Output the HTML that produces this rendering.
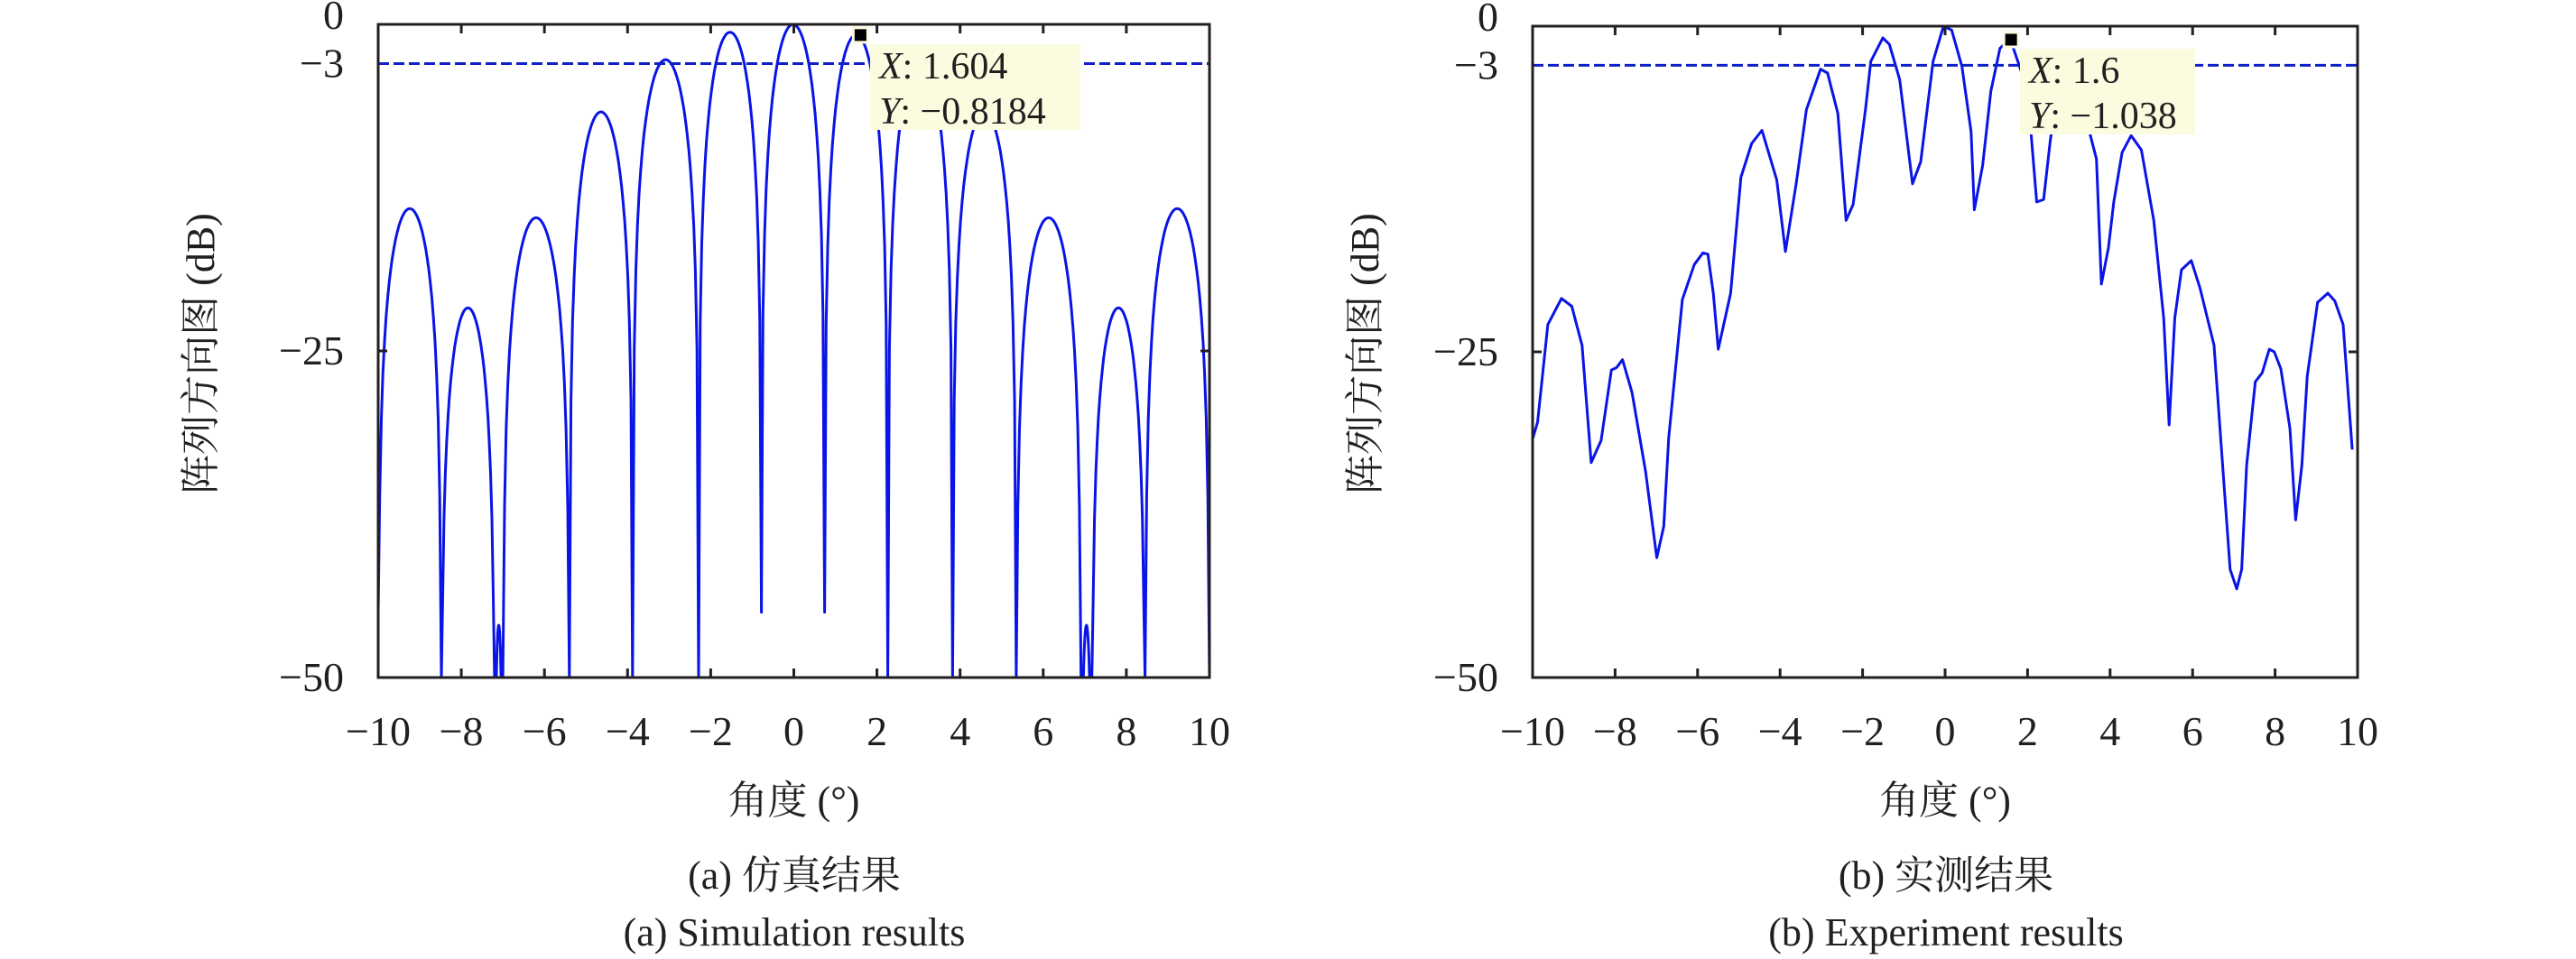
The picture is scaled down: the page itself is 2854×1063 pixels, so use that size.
<!DOCTYPE html>
<html><head><meta charset="utf-8"><style>
html,body{margin:0;padding:0;background:#fff;}
svg{display:block;}
text{font-family:"Liberation Serif","Noto Serif CJK SC",serif;fill:#231f20;}
</style></head><body>
<svg id="fig" width="2854" height="1063" viewBox="0 0 2854 1063" xmlns="http://www.w3.org/2000/svg">
<g id="chartA"></g>
<g id="chartB"></g>
<text x="880" y="985" font-size="44" text-anchor="middle">(a) 仿真结果</text>
<text x="880" y="1048" font-size="44" text-anchor="middle">(a) Simulation results</text>
<text x="2156" y="985" font-size="44" text-anchor="middle">(b) 实测结果</text>
<text x="2156" y="1048" font-size="44" text-anchor="middle">(b) Experiment results</text>
</svg>
<script>
// ---- data ----
const xTicks = [-10,-8,-6,-4,-2,0,2,4,6,8,10];
const yTickLabels = ["0","-3","-25","-50"];
const yTickValues = [0,-3,-25,-50];
const refLevel = -3;
// simulation: nulls and lobe peaks
const simNullAngles = [-10,-8.48,-7.2,-7.0,-5.4,-3.88,-2.29,-0.78,0.74,2.26,3.82,5.35,6.91,7.17,8.45,10];
const simNullDepths = [-45,-50,-50,-50,-50,-50,-50,-45,-45,-50,-50,-50,-50,-50,-50,-50];
const simPeaks = [-14.1,-21.7,-46,-14.8,-6.7,-2.7,-0.6,0,-0.8,-2.7,-6.7,-14.8,-46,-21.7,-14.1];
// experiment: measured samples
const expAngles = [-10,-9.88,-9.63,-9.3,-9.05,-8.8,-8.58,-8.34,-8.09,-7.96,-7.82,-7.59,-7.26,-6.99,-6.82,-6.7,-6.37,-6.08,-5.87,-5.75,-5.62,-5.5,-5.2,-4.95,-4.69,-4.44,-4.08,-3.87,-3.61,-3.36,-3.02,-2.85,-2.6,-2.4,-2.23,-1.93,-1.8,-1.51,-1.35,-1.1,-0.79,-0.59,-0.29,-0.04,0.16,0.41,0.63,0.71,0.91,1.11,1.33,1.58,1.85,2.08,2.22,2.39,2.55,2.75,3.0,3.25,3.5,3.67,3.79,3.96,4.09,4.29,4.51,4.76,5.06,5.3,5.43,5.57,5.73,5.97,6.18,6.52,6.74,6.91,7.07,7.19,7.31,7.52,7.69,7.86,7.98,8.14,8.36,8.5,8.65,8.78,9.03,9.28,9.45,9.65,9.87];
const expValues = [-31.7,-30.4,-22.9,-20.9,-21.5,-24.5,-33.5,-31.8,-26.4,-26.2,-25.6,-28.1,-34.2,-40.8,-38.4,-31.6,-21.0,-18.3,-17.4,-17.5,-20.5,-24.8,-20.5,-11.6,-9.0,-8.0,-11.8,-17.3,-12.1,-6.4,-3.3,-3.6,-6.7,-14.9,-13.7,-6.4,-2.7,-0.9,-1.4,-4.1,-12.1,-10.4,-2.7,0,-0.3,-3.1,-8.1,-14.1,-10.7,-5.0,-1.7,-1.0,-3.5,-8.1,-13.5,-13.3,-8.8,-4.5,-2.5,-4.0,-8.1,-10.2,-19.8,-17.0,-13.5,-9.7,-8.4,-9.5,-14.9,-22.4,-30.6,-22.4,-18.7,-18.0,-20.1,-24.5,-34.2,-41.7,-43.2,-41.7,-33.7,-27.3,-26.6,-24.8,-25.0,-26.3,-30.9,-37.9,-33.7,-26.9,-21.2,-20.5,-21.1,-22.9,-32.5];

const NS="http://www.w3.org/2000/svg";
function mk(parent,tag,attrs){const e=document.createElementNS(NS,tag);for(const k in attrs)e.setAttribute(k,attrs[k]);parent.appendChild(e);return e;}

function drawChart(g,L,R,T,B,pts,tip,labelX,key){
  const xs=v=>L+(v+10)/20*(R-L);
  const ys=v=>T+(-v)/50*(B-T);
  let d="";
  pts.forEach((p,i)=>{d+=(i?"L":"M")+xs(p[0]).toFixed(1)+","+ys(p[1]).toFixed(1);});
  const line=mk(g,"path",{d:d,fill:"none",stroke:"#0a14e6","stroke-width":3,"stroke-linejoin":"round"});
  
  
  const ref=mk(g,"line",{x1:L,x2:R,y1:ys(refLevel),y2:ys(refLevel),stroke:"#1020c8","stroke-width":3,"stroke-dasharray":"12,5"});
  
  
  const box=mk(g,"rect",{x:L,y:T,width:R-L,height:B-T,fill:"none",stroke:"#231f20","stroke-width":3});
  
  
  xTicks.forEach(v=>{
    const x=xs(v);
    mk(g,"line",{x1:x,x2:x,y1:B,y2:B-10,stroke:"#231f20","stroke-width":3});
    mk(g,"line",{x1:x,x2:x,y1:T,y2:T+10,stroke:"#231f20","stroke-width":3});
    const t=mk(g,"text",{x:x,y:B+75,"font-size":46,"text-anchor":"middle"});
    t.textContent=(v<0?"\u2212":"")+Math.abs(v);
    
    
  });
  yTickValues.forEach((v,i)=>{
    const y=ys(v);
    if(v===-25){
      mk(g,"line",{x1:L,x2:L+10,y1:y,y2:y,stroke:"#231f20","stroke-width":3});
      mk(g,"line",{x1:R,x2:R-10,y1:y,y2:y,stroke:"#231f20","stroke-width":3});
    }
    const t=mk(g,"text",{x:L-38,y:y+(v===0?5:15),"font-size":46,"text-anchor":"end"});
    t.textContent=yTickLabels[i].replace("-","\u2212");
    
    
  });
  const xl=mk(g,"text",{x:(L+R)/2,y:902,"font-size":44,"text-anchor":"middle"});
  xl.textContent="角度 (°)";
  
  
  const yl=mk(g,"text",{x:0,y:0,"font-size":44,"text-anchor":"middle",transform:"translate("+labelX+",392) rotate(-90)"});
  yl.textContent="阵列方向图 (dB)";
  
  
  const tb=mk(g,"rect",{x:tip.bx,y:tip.by,width:tip.bw,height:95,fill:"#fbfbe0"});
  
  
  const mkr=mk(g,"rect",{x:xs(tip.x)-8,y:ys(tip.y)-8,width:16,height:16,fill:"#000",stroke:"#fbfbe0","stroke-width":3});
  
  
  const t1=mk(g,"text",{x:tip.bx+10,y:tip.by+38,"font-size":42});
  t1.innerHTML='<tspan font-style="italic">X</tspan>: '+tip.xs;
  
  
  const t2=mk(g,"text",{x:tip.bx+10,y:tip.by+88,"font-size":42});
  t2.innerHTML='<tspan font-style="italic">Y</tspan>: \u2212'+tip.ys;
  
  
}

const simPts=[];
for(let i=0;i<simPeaks.length;i++){
  const a=simNullAngles[i],b=simNullAngles[i+1],da=simNullDepths[i],db=simNullDepths[i+1],pk=simPeaks[i];
  const n=40;
  for(let k=(i?1:0);k<=n;k++){
    const t=k/n;
    const floor=da+(db-da)*t;
    const s=Math.sin(Math.PI*t);
    let v=s>1e-6?pk+20*Math.log10(s):floor;
    if(v<floor)v=floor;
    simPts.push([a+(b-a)*t,v]);
  }
}
const expPts=expAngles.map((a,i)=>[a,expValues[i]]);

drawChart(document.getElementById("chartA"),419,1340,27,751,simPts,
  {x:1.604,y:-0.8184,xs:"1.604",ys:"0.8184",bx:964,by:49,bw:233},237,"sim");
drawChart(document.getElementById("chartB"),1698,2612,29,751,expPts,
  {x:1.6,y:-1.038,xs:"1.6",ys:"1.038",bx:2238,by:54,bw:194},1527,"exp");
</script>
</body></html>
